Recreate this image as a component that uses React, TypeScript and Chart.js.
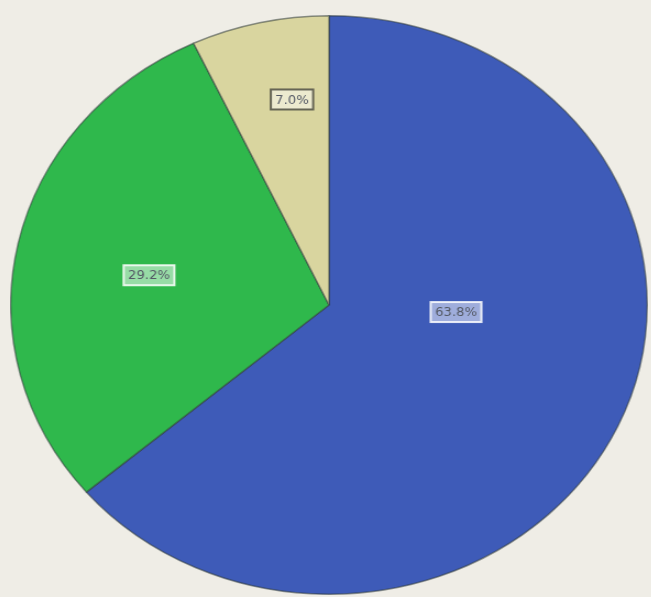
import React, { useEffect, useRef } from "react";
import { Chart, registerables } from "chart.js";

Chart.register(...registerables);

const categories = ["A", "B", "C"];
const values = [63.8, 29.2, 7.0];
const valueLabels = ["63.8%", "29.2%", "7.0%"];
const colors = ["#3e5bb8", "#2fb84c", "#d9d59f"];

const labelPlugin = {
  id: "boxLabels",
  afterDatasetsDraw(chart: any) {
    const ctx = chart.ctx;
    const meta = chart.getDatasetMeta(0);
    const place = [
      { ang: 93.5, f: 0.4 },
      { ang: 280.3, f: 0.575 },
      { ang: 350.7, f: 0.72 },
    ];
    meta.data.forEach((arc: any, i: number) => {
      const { x, y, outerRadius } = arc.getProps(["x", "y", "outerRadius"], true);
      const a = (place[i].ang * Math.PI) / 180;
      const r = outerRadius * place[i].f;
      const px = x + Math.sin(a) * r;
      const py = y - Math.cos(a) * r;
      ctx.save();
      ctx.font = "12px 'DejaVu Sans', sans-serif";
      const text = valueLabels[i];
      const w = ctx.measureText(text).width + 8;
      const h = 20;
      ctx.fillStyle = "rgba(255,255,255,0.5)";
      ctx.fillRect(px - w / 2, py - h / 2, w, h);
      ctx.strokeStyle = i === 2 ? "rgba(70,70,60,0.8)" : "rgba(255,255,255,0.85)";
      ctx.lineWidth = 2;
      ctx.strokeRect(px - w / 2, py - h / 2, w, h);
      ctx.fillStyle = "#555a66";
      ctx.textAlign = "center";
      ctx.textBaseline = "middle";
      ctx.fillText(text, px, py + 1);
      ctx.restore();
    });
  },
};

export default function App() {
  const ref = useRef<HTMLCanvasElement | null>(null);
  useEffect(() => {
    if (!ref.current) return;
    const chart = new Chart(ref.current, {
      type: "pie",
      data: {
        labels: categories,
        datasets: [
          {
            data: values,
            backgroundColor: colors,
            borderColor: "rgba(50,60,60,0.55)",
            borderWidth: 1.5,
          },
        ],
      },
      options: {
        responsive: false,
        animation: false,
        layout: { padding: 0 },
        plugins: { legend: { display: false }, tooltip: { enabled: false } },
      },
      plugins: [labelPlugin],
    });
    return () => chart.destroy();
  }, []);
  return (
    <div
      style={{
        position: "fixed",
        left: 0,
        top: 0,
        width: 651,
        height: 597,
        background: "#efede6",
        overflow: "hidden",
      }}
    >
      <div
        style={{
          position: "absolute",
          left: 10,
          top: 13,
          width: 580,
          height: 584,
          transform: "scale(1.1, 1)",
          transformOrigin: "0 0",
        }}
      >
        <canvas ref={ref} width={580} height={584} style={{ width: 580, height: 584 }} />
      </div>
    </div>
  );
}
